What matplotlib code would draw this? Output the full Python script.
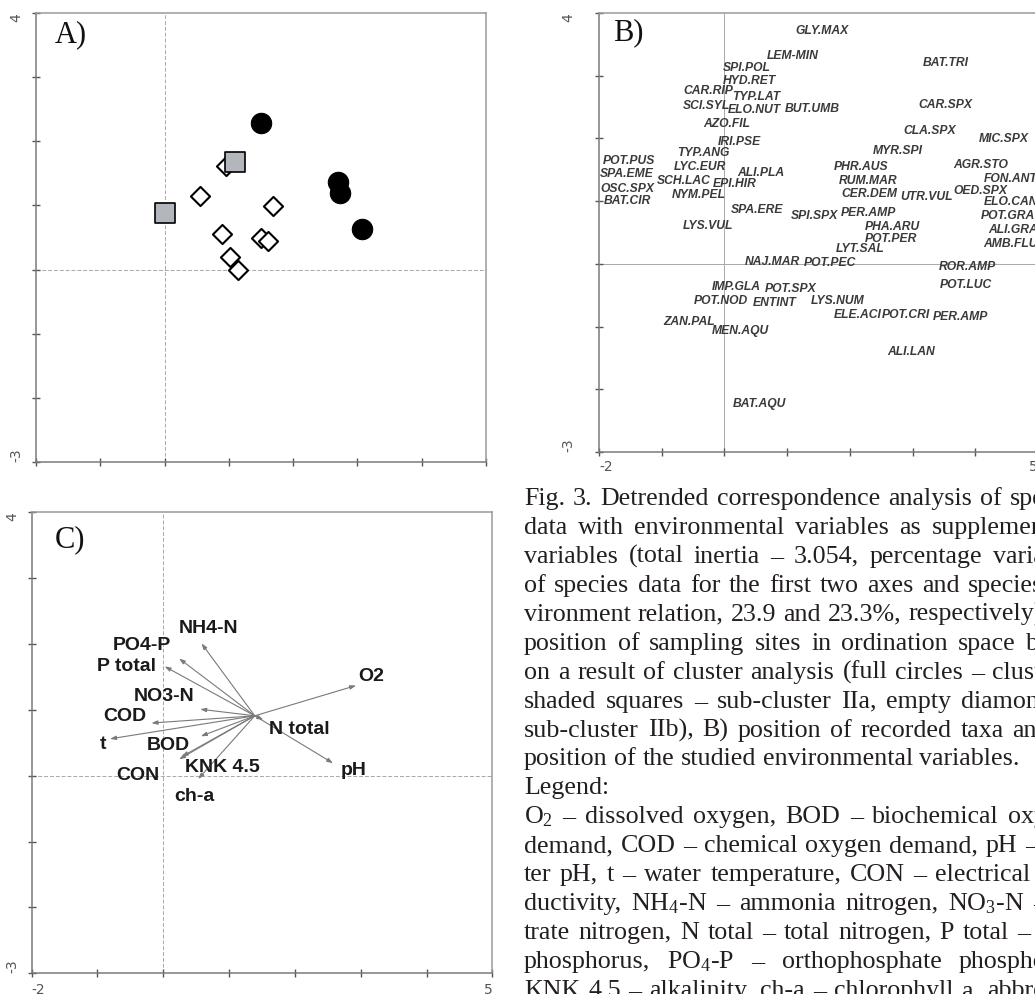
import matplotlib
matplotlib.use("Agg")
import matplotlib.pyplot as plt
from matplotlib.patches import Rectangle

plt.rcParams['mathtext.fontset'] = 'custom'
plt.rcParams['mathtext.rm'] = 'Liberation Serif'
plt.rcParams['mathtext.it'] = 'Liberation Serif:italic'

# ---------------- data ----------------
# Panel A: sampling sites (DCA scores)
cluster_I_x = [1.50, 2.69, 2.73, 3.07]
cluster_I_y = [2.28, 1.36, 1.19, 0.64]
sub_IIa_x = [1.10, 0.00]
sub_IIa_y = [1.68, 0.88]
sub_IIb_x = [0.95, 0.55, 1.68, 0.90, 1.50, 1.61, 1.02, 1.15]
sub_IIb_y = [1.62, 1.15, 0.99, 0.56, 0.50, 0.45, 0.20, 0.00]

# Panel B: taxa
taxa_names = ["GLY.MAX", "LEM-MIN", "SPI.POL", "HYD.RET", "CAR.RIP", "TYP.LAT", "SCI.SYL",
              "ELO.NUT", "BUT.UMB", "BAT.TRI", "CAR.SPX", "AZO.FIL", "CLA.SPX", "MIC.SPX",
              "IRI.PSE", "TYP.ANG", "MYR.SPI", "POT.PUS", "LYC.EUR", "PHR.AUS", "AGR.STO",
              "SPA.EME", "ALI.PLA", "FON.ANT", "SCH.LAC", "EPI.HIR", "RUM.MAR", "OSC.SPX",
              "NYM.PEL", "CER.DEM", "UTR.VUL", "OED.SPX", "BAT.CIR", "ELO.CAN", "SPA.ERE",
              "SPI.SPX", "PER.AMP", "POT.GRA", "LYS.VUL", "PHA.ARU", "ALI.GRA", "POT.PER",
              "AMB.FLU", "LYT.SAL", "NAJ.MAR", "POT.PEC", "ROR.AMP", "IMP.GLA", "POT.SPX",
              "POT.LUC", "POT.NOD", "ENTINT", "LYS.NUM", "ELE.ACI", "POT.CRI", "PER.AMP",
              "ZAN.PAL", "MEN.AQU", "ALI.LAN", "BAT.AQU"]
taxa_x = [1.13, 0.68, -0.02, -0.02, -0.66, 0.13, -0.66,
          0.06, 0.96, 3.16, 3.09, -0.34, 2.85, 4.06,
          -0.10, -0.76, 2.37, -1.94, -0.80, 1.75, 3.65,
          -1.98, 0.20, 4.13, -1.08, -0.18, 1.82, -1.97,
          -0.84, 1.87, 2.80, 3.65, -1.93, 4.14, 0.11,
          1.06, 1.86, 4.09, -0.67, 2.24, 4.21, 2.24,
          4.13, 1.78, 0.32, 1.27, 3.42, -0.20, 0.65,
          3.44, -0.49, 0.46, 1.38, 1.74, 2.51, 3.33,
          -0.98, -0.20, 2.60, 0.13]
taxa_y = [3.71, 3.32, 3.13, 2.91, 2.75, 2.66, 2.52,
          2.46, 2.47, 3.20, 2.54, 2.23, 2.12, 1.99,
          1.95, 1.76, 1.80, 1.64, 1.55, 1.55, 1.57,
          1.43, 1.45, 1.36, 1.32, 1.28, 1.32, 1.20,
          1.09, 1.12, 1.06, 1.16, 1.00, 0.98, 0.86,
          0.77, 0.81, 0.76, 0.61, 0.58, 0.54, 0.39,
          0.32, 0.23, 0.03, 0.01, -0.05, -0.37, -0.40,
          -0.34, -0.59, -0.63, -0.59, -0.81, -0.82, -0.84,
          -0.93, -1.07, -1.40, -2.24]

# Panel C: environmental variables (arrow tips), arrows start at the centroid
env_origin = (1.39, 0.91)
env_names = ["O2", "pH", "N total", "NH4-N", "PO4-P", "P total", "NO3-N",
             "COD", "t", "BOD", "KNK 4.5", "CON", "ch-a"]
env_x = [2.93, 2.58, 1.52, 0.58, 0.24, 0.02, 0.56, -0.18, -0.81, 0.57, 0.24, 0.28, 0.53]
env_y = [1.37, 0.19, 0.85, 2.01, 1.78, 1.66, 1.01, 0.80, 0.56, 0.60, 0.25, 0.29, -0.05]

# layout: label anchor (left, centre) positions of env labels in data units
env_label_pos = {"O2": (2.96, 1.51), "pH": (2.70, 0.08), "N total": (1.60, 0.70),
                 "NH4-N": (0.24, 2.23), "PO4-P": (-0.77, 1.97), "P total": (-1.00, 1.66),
                 "NO3-N": (-0.45, 1.20), "COD": (-0.91, 0.90), "t": (-0.96, 0.48),
                 "BOD": (-0.25, 0.46), "KNK 4.5": (0.33, 0.13), "CON": (-0.72, 0.01),
                 "ch-a": (0.16, -0.32)}

caption_lines = [
    ("Fig. 3. Detrended correspondence analysis of species", True),
    ("data with environmental variables as supplementary", True),
    ("variables (total inertia – 3.054, percentage variation", True),
    ("of species data for the first two axes and species-en-", True),
    ("vironment relation, 23.9 and 23.3%, respectively): A)", True),
    ("position of sampling sites in ordination space based", True),
    ("on a result of cluster analysis (full circles – cluster I,", True),
    ("shaded squares – sub-cluster IIa, empty diamonds –", True),
    ("sub-cluster IIb), B) position of recorded taxa and C)", True),
    ("position of the studied environmental variables.", False),
    ("Legend:", False),
    ("O$_2$ – dissolved oxygen, BOD – biochemical oxygen", True),
    ("demand, COD – chemical oxygen demand, pH – wa-", True),
    ("ter pH, t – water temperature, CON – electrical con-", True),
    ("ductivity, NH$_4$-N – ammonia nitrogen, NO$_3$-N – ni-", True),
    ("trate nitrogen, N total – total nitrogen, P total – total", True),
    ("phosphorus, PO$_4$-P – orthophosphate phosphorus,", True),
    ("KNK 4.5 – alkalinity, ch-a – chlorophyll a, abbrevia-", True),
]

# ---------------- figure ----------------
W, H = 1035, 994
fig = plt.figure(figsize=(W / 100, H / 100), dpi=100)
renderer = fig.canvas.get_renderer()


def px_axes(l, t, r, b):
    return fig.add_axes([l / W, 1 - b / H, (r - l) / W, (b - t) / H])


def style(ax, xpad, ypad, dashed):
    ax.set_xlim(-2, 5)
    ax.set_ylim(-3, 4)
    ax.set_xticks(range(-2, 6))
    ax.set_yticks(range(-3, 5))
    ax.set_xticklabels(['-2', '', '', '', '', '', '', '5'])
    ax.set_yticklabels(['-3', '', '', '', '', '', '', '4'])
    ax.tick_params(direction='inout', length=6, width=1.0, color='#555555',
                   labelsize=10, labelcolor='#555555')
    ax.tick_params(axis='x', pad=xpad)
    ax.tick_params(axis='y', pad=ypad, labelrotation=90)
    yl = ax.get_yticklabels()
    yl[0].set_va('bottom')
    yl[-1].set_va('top')
    xl = ax.get_xticklabels()
    xl[0].set_ha('left')
    xl[-1].set_ha('right')
    for k, s in ax.spines.items():
        s.set_linewidth(1.1)
        s.set_color('#7a7a7a' if k in ('left', 'bottom') else '#9a9a9a')
    ls = (0, (4, 2)) if dashed else '-'
    ax.axhline(0, color='#a8a8a8', lw=0.7, ls=ls, zorder=0)
    ax.axvline(0, color='#a8a8a8', lw=0.7, ls=ls, zorder=0)


# Panel A
axA = px_axes(36, 13, 486, 462)
style(axA, 4, 6, True)
axA.scatter(sub_IIb_x, sub_IIb_y, marker='D', s=95, facecolor='white',
            edgecolor='black', linewidth=1.5, zorder=3)
axA.scatter(sub_IIa_x, sub_IIa_y, marker='s', s=196, facecolor='#b3b6bd',
            edgecolor='black', linewidth=1.2, zorder=4)
axA.scatter(cluster_I_x, cluster_I_y, marker='o', s=215, facecolor='black',
            edgecolor='black', linewidth=0.8, zorder=5)
axA.text(0.042, 0.951, "A)", transform=axA.transAxes, fontfamily='Liberation Serif',
         fontsize=22, ha='left', va='center', color='#111111')

# Panel B
axB = px_axes(599, 13, 1038, 452)
style(axB, 3, 14, False)
for n, x, y in zip(taxa_names, taxa_x, taxa_y):
    axB.text(x, y, n, fontfamily='Liberation Sans', fontstyle='italic', fontweight='bold',
             fontsize=8.7, color='#3a3a3a', ha='left', va='center', zorder=3)
axB.text(0.032, 0.954, "B)", transform=axB.transAxes, fontfamily='Liberation Serif',
         fontsize=22, ha='left', va='center', color='#111111')

# Panel C
axC = px_axes(31.7, 512.3, 492.3, 973.3)
style(axC, 4, 6, True)
for n, x, y in zip(env_names, env_x, env_y):
    axC.annotate('', xy=(x, y), xytext=env_origin,
                 arrowprops=dict(arrowstyle='-|>,head_length=0.35,head_width=0.12',
                                 color='#7a7a7a', lw=0.8, shrinkA=0, shrinkB=0))
    lx, ly = env_label_pos[n]
    axC.text(lx, ly, n, fontfamily='Liberation Sans', fontweight='bold', fontsize=14,
             color='#1a1a1a', ha='left', va='center', zorder=4)
axC.text(0.051, 0.94, "C)", transform=axC.transAxes, fontfamily='Liberation Serif',
         fontsize=22, ha='left', va='center', color='#111111')

# white band: panel A x tick labels are cut off in the original
fig.add_artist(Rectangle((0, 1 - 505 / H), 515 / W, (505 - 472) / H,
                         transform=fig.transFigure, facecolor='white',
                         edgecolor='none', zorder=10))

# ---------------- caption ----------------
cap_font = 'Liberation Serif'
probe = fig.text(0, 0, "position of the studied environmental variables.",
                 fontfamily=cap_font, fontsize=20)
fs = 20 * 495 / probe.get_window_extent(renderer).width
probe.remove()
p1 = fig.text(0, 0, "x x", fontfamily=cap_font, fontsize=fs)
p2 = fig.text(0, 0, "xx", fontfamily=cap_font, fontsize=fs)
space_w = p1.get_window_extent(renderer).width - p2.get_window_extent(renderer).width
p1.remove()
p2.remove()

cap_x0, cap_R = 524, 1085
base0, lead = 505, 28.94
for i, (line, just) in enumerate(caption_lines):
    yb = 1 - (base0 + lead * i) / H
    words = line.split(' ')
    objs = [fig.text(0, yb, w, fontfamily=cap_font, fontsize=fs, va='baseline',
                     color='#231f20') for w in words]
    widths = [o.get_window_extent(renderer).width for o in objs]
    if just and len(words) > 1:
        gap = max(space_w * 0.8, (cap_R - cap_x0 - sum(widths)) / (len(words) - 1))
    else:
        gap = space_w
    x = cap_x0
    for o, wd in zip(objs, widths):
        o.set_x(x / W)
        x += wd + gap

fig.savefig("out.png", dpi=100, facecolor='white')
